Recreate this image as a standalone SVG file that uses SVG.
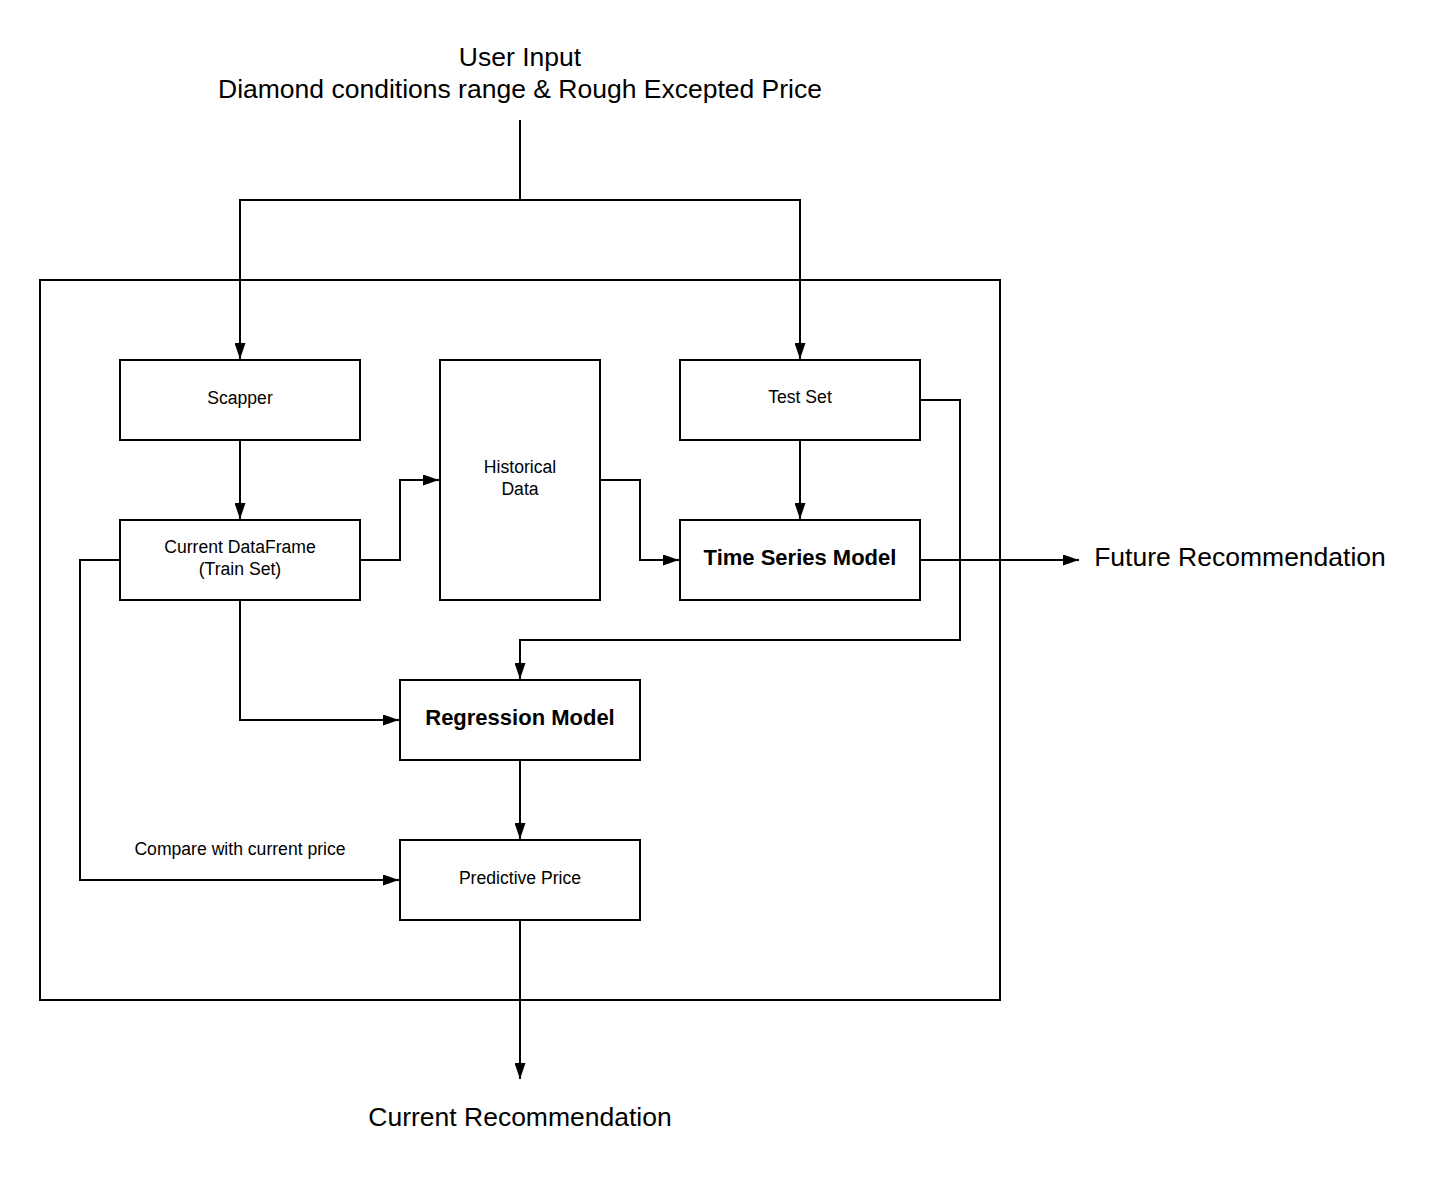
<svg xmlns="http://www.w3.org/2000/svg" width="1440" height="1200" viewBox="0 0 1440 1200">
<style>
.box{fill:#fff;stroke:#000;stroke-width:2}
.ln{fill:none;stroke:#000;stroke-width:2}
.t{font-family:"Liberation Sans",Arial,sans-serif;font-size:17.6px;fill:#000;text-anchor:middle}
.b{font-family:"Liberation Sans",Arial,sans-serif;font-size:22px;font-weight:bold;fill:#000;text-anchor:middle}
.big{font-family:"Liberation Sans",Arial,sans-serif;font-size:26.5px;fill:#000;text-anchor:middle}
</style>
<defs>
<marker id="ah" viewBox="0 0 16 11" refX="16" refY="5.5" markerWidth="16" markerHeight="11" markerUnits="userSpaceOnUse" orient="auto">
<path d="M0,0 L16,5.5 L0,11 Z" fill="#000"/>
</marker>
</defs>
<rect width="1440" height="1200" fill="#fff"/>
<g id="frame"><rect class="ln" x="40" y="280" width="960" height="720"/></g>
<g id="connectors">
<path class="ln" d="M520,120 V200 H240 V359" marker-end="url(#ah)"/>
<path class="ln" d="M520,200 H800 V359" marker-end="url(#ah)"/>
<path class="ln" d="M240,440 V519" marker-end="url(#ah)"/>
<path class="ln" d="M360,560 H400 V480 H439" marker-end="url(#ah)"/>
<path class="ln" d="M600,480 H640 V560 H679" marker-end="url(#ah)"/>
<path class="ln" d="M800,440 V519" marker-end="url(#ah)"/>
<path class="ln" d="M920,400 H960 V640 H520 V679" marker-end="url(#ah)"/>
<path class="ln" d="M920,560 H1079" marker-end="url(#ah)"/>
<path class="ln" d="M240,600 V720 H399" marker-end="url(#ah)"/>
<path class="ln" d="M520,760 V839" marker-end="url(#ah)"/>
<path class="ln" d="M120,560 H80 V880 H399" marker-end="url(#ah)"/>
<path class="ln" d="M520,920 V1079" marker-end="url(#ah)"/>
<text class="t" x="240" y="855">Compare with current price</text>
</g>
<g id="user-input">
<text class="big" x="520" y="66">User Input</text>
<text class="big" x="520" y="98">Diamond conditions range &amp; Rough Excepted Price</text>
</g>
<g id="scapper"><rect class="box" x="120" y="360" width="240" height="80"/><text class="t" x="240" y="404">Scapper</text></g>
<g id="historical"><rect class="box" x="440" y="360" width="160" height="240"/><text class="t" x="520" y="473">Historical</text><text class="t" x="520" y="495">Data</text></g>
<g id="testset"><rect class="box" x="680" y="360" width="240" height="80"/><text class="t" x="800" y="403">Test Set</text></g>
<g id="current-df"><rect class="box" x="120" y="520" width="240" height="80"/><text class="t" x="240" y="553">Current DataFrame</text><text class="t" x="240" y="575">(Train Set)</text></g>
<g id="timeseries"><rect class="box" x="680" y="520" width="240" height="80"/><text class="b" x="800" y="565">Time Series Model</text></g>
<g id="regression"><rect class="box" x="400" y="680" width="240" height="80"/><text class="b" x="520" y="725">Regression Model</text></g>
<g id="predictive"><rect class="box" x="400" y="840" width="240" height="80"/><text class="t" x="520" y="884">Predictive Price</text></g>
<g id="future"><text class="big" x="1240" y="566">Future Recommendation</text></g>
<g id="current-rec"><text class="big" x="520" y="1126">Current Recommendation</text></g>
</svg>
